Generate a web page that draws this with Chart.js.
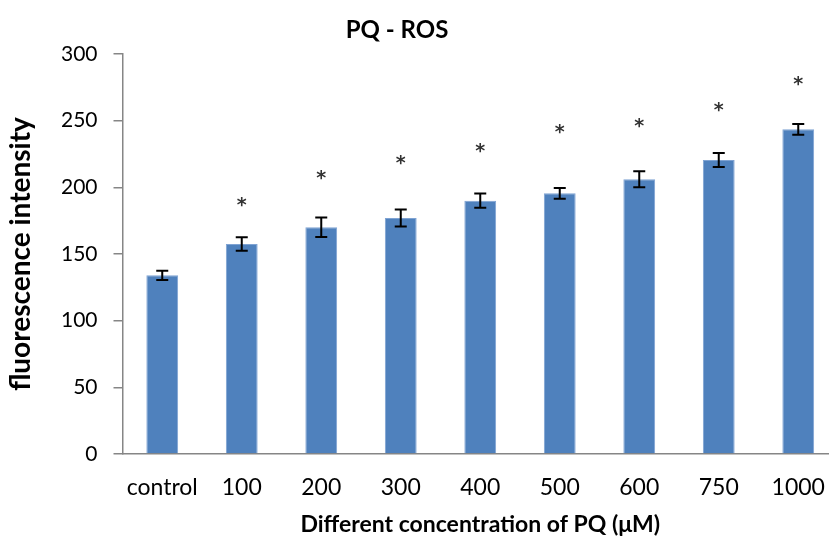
<!DOCTYPE html>
<html>
<head>
<meta charset="utf-8">
<script src="https://cdn.jsdelivr.net/npm/chart.js@4/dist/chart.umd.min.js"></script>
<style>
html,body{margin:0;padding:0;overflow:hidden;background:#fff;width:829px;height:539px;}
#wrap{position:relative;width:850px;height:539px;}
</style>
</head>
<body>
<div id="wrap"><canvas id="c"></canvas></div>
<script>
const categories = ['control','100','200','300','400','500','600','750','1000'];
const values = [134, 157.5, 170, 177, 190, 195.5, 206, 220.5, 243.5];
const errors = [3.5, 5, 7.3, 6.3, 5.3, 4, 6, 5.3, 4];
const asterisks = [null, 189, 209, 220.5, 229.5, 244, 248.5, 260, 280];
const yTicks = [0, 50, 100, 150, 200, 250, 300];

const FONT = 'Lato, "Open Sans", sans-serif';

const extras = {
  id: 'extras',
  afterDatasetsDraw(chart) {
    const ctx = chart.ctx;
    const xs = chart.scales.x, ys = chart.scales.y;
    ctx.save();
    // error bars
    ctx.strokeStyle = '#000';
    ctx.lineWidth = 2;
    values.forEach((v, i) => {
      const x = xs.getPixelForValue(i);
      const yt = ys.getPixelForValue(v + errors[i]);
      const yb = ys.getPixelForValue(v - errors[i]);
      ctx.beginPath();
      ctx.moveTo(x, yt); ctx.lineTo(x, yb);
      ctx.moveTo(x - 6, yt); ctx.lineTo(x + 6, yt);
      ctx.moveTo(x - 6, yb); ctx.lineTo(x + 6, yb);
      ctx.stroke();
    });
    // asterisks
    ctx.fillStyle = '#333';
    ctx.font = 'bold 19px "DejaVu Sans", sans-serif';
    ctx.textAlign = 'center';
    ctx.textBaseline = 'alphabetic';
    const m = ctx.measureText('*');
    const off = (m.actualBoundingBoxAscent - m.actualBoundingBoxDescent) / 2;
    asterisks.forEach((a, i) => {
      if (a == null) return;
      const x = xs.getPixelForValue(i);
      const y = ys.getPixelForValue(a);
      ctx.fillText('*', x, y + off);
    });
    // title
    ctx.fillStyle = '#000';
    ctx.font = 'bold 24px ' + FONT;
    ctx.textBaseline = 'middle';
    ctx.fillText('PQ - ROS', 397, 30);
    ctx.restore();
  }
};

new Chart(document.getElementById('c'), {
  type: 'bar',
  data: {
    labels: categories,
    datasets: [{
      data: values,
      backgroundColor: '#4F81BD',
      borderColor: '#7FA3D3',
      borderWidth: 1,
      barPercentage: 0.4,
      categoryPercentage: 1.0
    }]
  },
  options: {
    responsive: true,
    maintainAspectRatio: false,
    animation: false,
    layout: { padding: { left: 0, right: 12, top: 54, bottom: 0 } },
    plugins: { legend: { display: false }, tooltip: { enabled: false }, title: { display: false } },
    scales: {
      x: {
        grid: { display: false, drawTicks: false },
        border: { display: true, color: '#868686', width: 1.5 },
        ticks: { color: '#000', font: { family: FONT, size: 23 }, padding: 20, maxRotation: 0, autoSkip: false },
        title: { display: true, text: 'Different concentration of PQ (μM)', color: '#000', font: { family: FONT, size: 23, weight: 'bold' }, padding: { top: 4, bottom: 1 } },
        afterFit(s) { s.height = 85; }
      },
      y: {
        min: 0, max: 300,
        afterBuildTicks(s) { s.ticks = yTicks.map(v => ({ value: v })); },
        grid: { drawOnChartArea: false, drawTicks: true, tickLength: 9, color: '#868686', lineWidth: 1.5 },
        border: { display: true, color: '#868686', width: 1.5 },
        ticks: { color: '#000', font: { family: FONT, size: 21 }, padding: 16 },
        title: { display: true, text: 'fluorescence intensity', color: '#000', font: { family: FONT, size: 28, weight: 'bold' }, padding: { bottom: 0 } },
        afterFit(s) { s.width = 122.5; }
      }
    }
  },
  plugins: [extras]
});
</script>
</body>
</html>
